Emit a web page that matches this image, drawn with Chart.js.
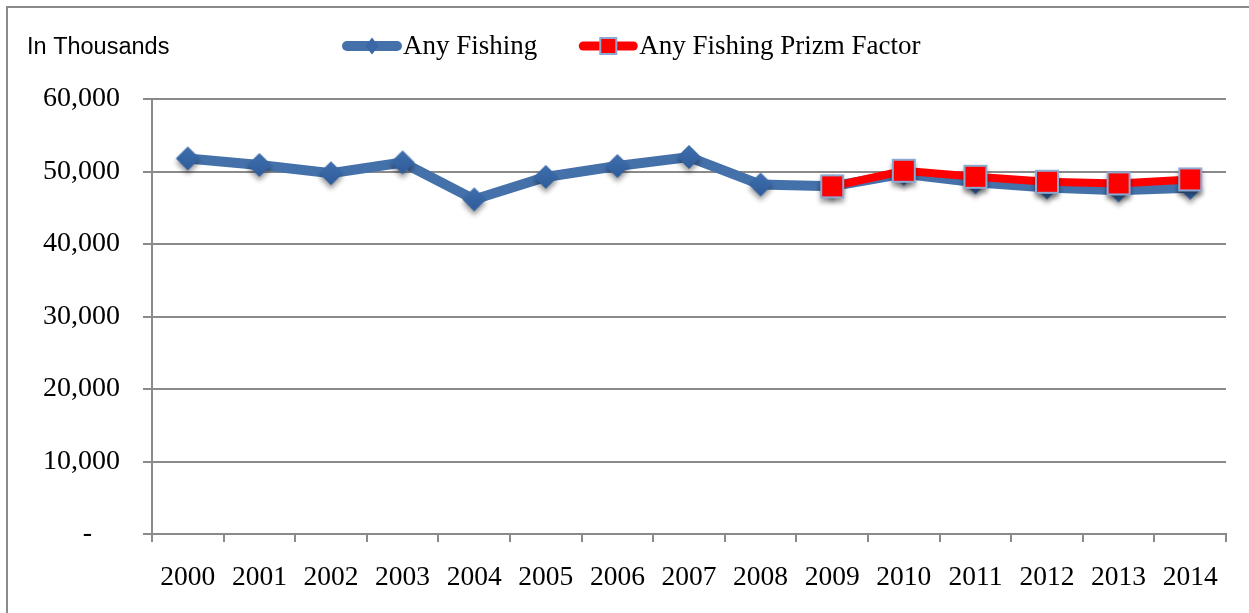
<!DOCTYPE html>
<html>
<head>
<meta charset="utf-8">
<script src="https://cdn.jsdelivr.net/npm/chart.js@4/dist/chart.umd.min.js"></script>
<style>
html,body{margin:0;padding:0;background:#fff;}
#wrap{position:relative;width:1249px;height:613px;}
</style>
</head>
<body>
<div id="wrap"><canvas id="c" width="1249" height="613"></canvas></div>
<script>
const years = ['2000','2001','2002','2003','2004','2005','2006','2007','2008','2009','2010','2011','2012','2013','2014'];
const anyFishing = [51800, 50900, 49750, 51250, 46150, 49250, 50750, 52000, 48200, 47950, 49700, 48500, 47800, 47400, 47750];
const prizmFactor = [null, null, null, null, null, null, null, null, null, 47950, 50100, 49270, 48580, 48360, 48910];
const yMin = 0, yMax = 60000, yStep = 10000;
const seriesNames = ['Any Fishing', 'Any Fishing Prizm Factor'];
const axisTitle = 'In Thousands';

const BLUE = '#4571aa';
const BLUE_PT = '#3a67a6';
const RED = '#ff0000';
const RED_BORDER = '#8ea9d1';
const GRID = '#8a8a8a';
const SERIF = '"Liberation Serif", "Times New Roman", serif';

function makeMarker(kind) {
  const c = document.createElement('canvas');
  c.width = 48; c.height = 52;
  const g = c.getContext('2d');
  const cx = 24, cy = 26;
  g.shadowColor = 'rgba(0,0,0,0.38)';
  g.shadowBlur = 5;
  g.shadowOffsetY = 4;
  if (kind === 'diamond') {
    const grd = g.createLinearGradient(0, cy - 12, 0, cy + 12);
    grd.addColorStop(0, '#3f6fae');
    grd.addColorStop(1, '#2f5c9b');
    g.fillStyle = grd;
    g.beginPath();
    g.moveTo(cx, cy - 12);
    g.lineTo(cx + 12, cy);
    g.lineTo(cx, cy + 12);
    g.lineTo(cx - 12, cy);
    g.closePath();
    g.fill();
  } else {
    g.fillStyle = RED_BORDER;
    g.fillRect(cx - 12, cy - 12, 24, 24);
    g.shadowColor = 'transparent';
    g.fillStyle = RED;
    g.fillRect(cx - 10, cy - 10, 20, 20);
  }
  return c;
}
const diamondImg = makeMarker('diamond');
const squareImg = makeMarker('square');

const decorPlugin = {
  id: 'decor',
  beforeDraw(chart) {
    const ctx = chart.ctx;
    ctx.save();
    ctx.fillStyle = '#fff';
    ctx.fillRect(0, 0, chart.width, chart.height);
    ctx.strokeStyle = GRID;
    ctx.lineWidth = 2;
    ctx.beginPath();
    ctx.moveTo(7, chart.height);
    ctx.lineTo(7, 7);
    ctx.lineTo(chart.width, 7);
    ctx.stroke();
    ctx.restore();
  },
  afterDraw(chart) {
    const ctx = chart.ctx;
    ctx.save();
    ctx.fillStyle = '#000';
    ctx.textBaseline = 'middle';
    ctx.textAlign = 'left';
    ctx.font = '23.5px "Liberation Sans", Arial, sans-serif';
    ctx.fillText(axisTitle, 27, 48);

    // legend
    const ly = 46;
    let x = 342;
    ctx.font = '27px ' + SERIF;
    chart.data.datasets.forEach((ds, i) => {
      const sampleLen = 60;
      ctx.lineCap = 'round';
      ctx.strokeStyle = ds.borderColor;
      ctx.lineWidth = i === 0 ? 10 : 9;
      ctx.beginPath();
      ctx.moveTo(x + 5, ly);
      ctx.lineTo(x + sampleLen - 5, ly);
      ctx.stroke();
      const cx = x + sampleLen / 2;
      if (i === 0) {
        ctx.fillStyle = BLUE_PT;
        ctx.beginPath();
        ctx.moveTo(cx, ly - 8.5);
        ctx.lineTo(cx + 6.5, ly);
        ctx.lineTo(cx, ly + 8.5);
        ctx.lineTo(cx - 6.5, ly);
        ctx.closePath();
        ctx.fill();
      } else {
        ctx.fillStyle = RED;
        ctx.fillRect(cx - 8, ly - 8, 16, 16);
        ctx.strokeStyle = RED_BORDER;
        ctx.lineWidth = 2;
        ctx.strokeRect(cx - 8, ly - 8, 16, 16);
      }
      ctx.fillStyle = '#000';
      ctx.fillText(ds.label, x + sampleLen + 1, ly + 1);
      x += sampleLen + 1 + ctx.measureText(ds.label).width + 41;
    });
    ctx.restore();
  }
};

new Chart(document.getElementById('c'), {
  type: 'line',
  data: {
    labels: years,
    datasets: [
      {
        label: seriesNames[0],
        data: anyFishing,
        borderColor: BLUE,
        borderWidth: 10,
        pointStyle: diamondImg,
        pointRadius: 12,
        pointBackgroundColor: BLUE_PT,
        pointBorderColor: BLUE_PT,
        pointBorderWidth: 0,
        tension: 0,
        order: 2
      },
      {
        label: seriesNames[1],
        data: prizmFactor,
        borderColor: RED,
        borderWidth: 8,
        pointStyle: squareImg,
        pointRadius: 16,
        pointBackgroundColor: RED,
        pointBorderColor: RED_BORDER,
        pointBorderWidth: 2,
        tension: 0,
        spanGaps: false,
        order: 1
      }
    ]
  },
  options: {
    responsive: false,
    devicePixelRatio: 1,
    animation: false,
    layout: { padding: { top: 99, right: 23, bottom: 0, left: 0 } },
    plugins: {
      legend: { display: false },
      tooltip: { enabled: false },
      title: { display: false }
    },
    scales: {
      x: {
        type: 'category',
        offset: true,
        grid: {
          offset: true,
          drawOnChartArea: false,
          drawTicks: true,
          tickLength: 8,
          color: GRID,
          lineWidth: 2
        },
        border: { display: true, color: GRID, width: 2 },
        ticks: {
          color: '#000',
          font: { family: SERIF, size: 27.5 },
          padding: 19,
          maxRotation: 0,
          autoSkip: false
        },
        afterFit(scale) { scale.height = 79; }
      },
      y: {
        min: yMin,
        max: yMax,
        grid: {
          color: GRID,
          lineWidth: 2,
          drawTicks: true,
          tickLength: 9
        },
        border: { display: true, color: GRID, width: 2 },
        ticks: {
          stepSize: yStep,
          color: '#000',
          font: { family: SERIF, size: 28 },
          padding: 23,
          callback: (v) => v === 0 ? '-    ' : Number(v).toLocaleString('en-US')
        },
        afterFit(scale) { scale.width = 152; }
      }
    }
  },
  plugins: [decorPlugin]
});
</script>
</body>
</html>
